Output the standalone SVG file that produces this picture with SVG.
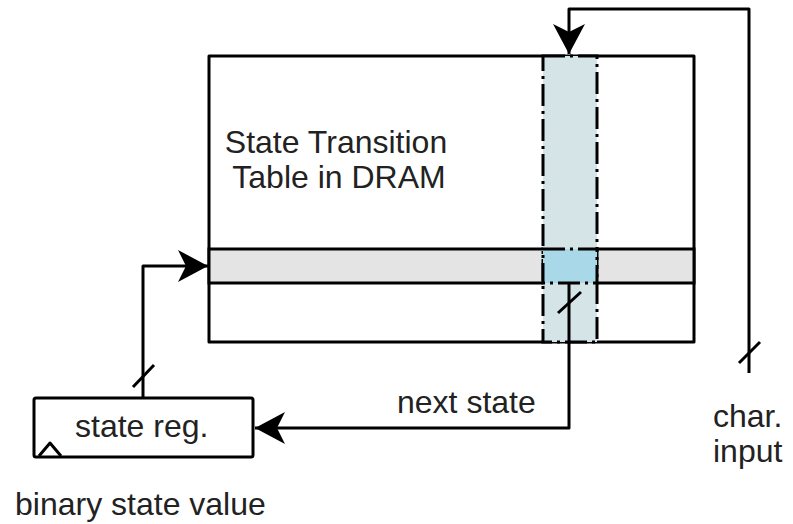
<svg xmlns="http://www.w3.org/2000/svg" width="793" height="524" viewBox="0 0 793 524">
<defs>
<style>
.ln{fill:none;stroke:#000;stroke-width:3;stroke-linejoin:round}
.dd{stroke:#000;stroke-width:3;stroke-dasharray:22 5 3 5}
text{font-family:"Liberation Sans",Arial,sans-serif;font-size:32px;fill:#222}
</style>
<marker id="ah" markerUnits="userSpaceOnUse" markerWidth="34" markerHeight="34" viewBox="-32 -17 34 34" refX="0" refY="0" orient="auto">
<path d="M0,0 L-30,-16 L-22,0 L-30,16 Z" fill="#000"/>
</marker>
</defs>
<rect width="793" height="524" fill="#fff"/>
<g id="table">
<rect x="209" y="56" width="485" height="286" class="ln"/>
<rect x="209" y="249" width="485" height="34" fill="#e4e4e4" stroke="#000" stroke-width="3"/>
<text x="336" y="153" text-anchor="middle">State Transition</text>
<text x="339" y="188" text-anchor="middle">Table in DRAM</text>
</g>
<g id="column">
<rect x="543" y="56" width="54" height="286" fill="#d5e4e7" class="dd"/>
<rect x="543" y="249" width="54" height="34" fill="#a9d8e9" class="dd"/>
</g>
<g id="state-reg">
<rect x="34" y="398" width="219" height="59" rx="2" class="ln" fill="#fff"/>
<path d="M39,456 L50,443 L61,456" class="ln"/>
<text x="75" y="437">state reg.</text>
</g>
<g id="labels">
<text x="397" y="413">next state</text>
<text x="713" y="427">char.</text>
<text x="713" y="462">input</text>
<text x="15" y="515">binary state value</text>
</g>
<g id="connectors">
<path d="M749,373 V9 H569 V54" class="ln" marker-end="url(#ah)"/>
<path d="M569,283 V428 H255" class="ln" marker-end="url(#ah)"/>
<path d="M143,398 V266 H208" class="ln" marker-end="url(#ah)"/>
<path d="M739,363 L760,342 M558,313 L581,292 M133,387 L154,365" class="ln"/>
</g>
</svg>
